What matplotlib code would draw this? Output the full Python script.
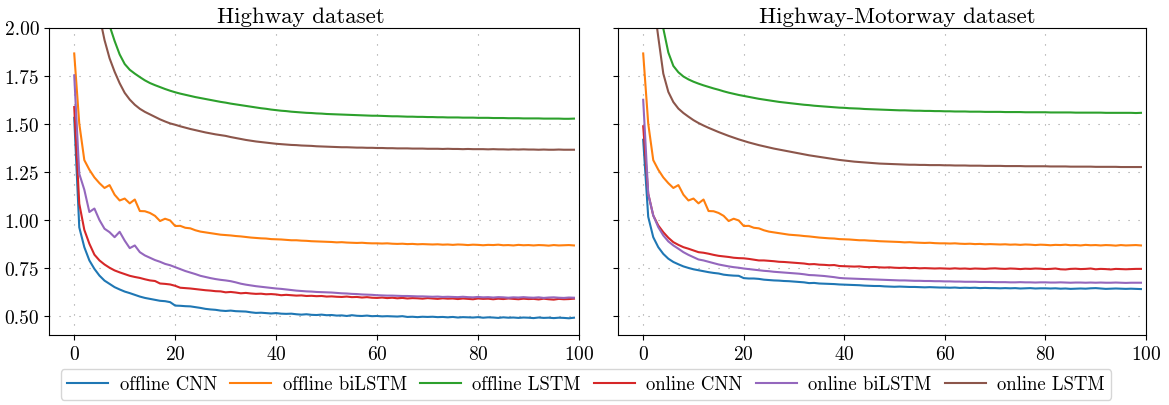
import numpy as np
import matplotlib
matplotlib.use("Agg")
import matplotlib.pyplot as plt

plt.rcParams["font.family"] = "serif"
plt.rcParams["font.serif"] = ["cmr10"]
plt.rcParams["mathtext.fontset"] = "cm"
plt.rcParams["axes.formatter.use_mathtext"] = True
plt.rcParams["axes.unicode_minus"] = False

epochs = np.arange(100)

# offline biLSTM loss is the same curve on both datasets
off_bilstm = [
    1.865, 1.500, 1.310, 1.260, 1.220, 1.190, 1.165, 1.180, 1.130, 1.100,
    1.110, 1.085, 1.105, 1.045, 1.044, 1.035, 1.020, 0.993, 1.005, 0.996,
    0.967, 0.968, 0.958, 0.955, 0.945, 0.938, 0.934, 0.930, 0.926, 0.922,
    0.920, 0.918, 0.915, 0.913, 0.910, 0.907, 0.905, 0.903, 0.902, 0.899,
    0.898, 0.897, 0.895, 0.893, 0.893, 0.891, 0.890, 0.888, 0.887, 0.886,
    0.885, 0.884, 0.882, 0.883, 0.881, 0.880, 0.879, 0.880, 0.878, 0.877,
    0.877, 0.876, 0.877, 0.875, 0.874, 0.875, 0.873, 0.874, 0.872, 0.873,
    0.872, 0.871, 0.872, 0.870, 0.871, 0.869, 0.871, 0.870, 0.868, 0.870,
    0.869, 0.867, 0.869, 0.868, 0.870, 0.867, 0.868, 0.866, 0.869, 0.867,
    0.868, 0.866, 0.868, 0.867, 0.865, 0.868, 0.866, 0.867, 0.868, 0.866,
]

# Highway dataset
hw_off_cnn = [
    1.530, 0.960, 0.857, 0.788, 0.744, 0.709, 0.683, 0.666, 0.649, 0.637,
    0.626, 0.618, 0.609, 0.600, 0.593, 0.588, 0.583, 0.578, 0.576, 0.571,
    0.553, 0.552, 0.550, 0.549, 0.545, 0.541, 0.536, 0.533, 0.531, 0.527,
    0.525, 0.527, 0.524, 0.523, 0.522, 0.518, 0.515, 0.516, 0.514, 0.512,
    0.514, 0.511, 0.510, 0.511, 0.508, 0.506, 0.508, 0.505, 0.504, 0.506,
    0.503, 0.504, 0.501, 0.502, 0.499, 0.503, 0.500, 0.499, 0.501, 0.498,
    0.499, 0.497, 0.498, 0.497, 0.496, 0.498, 0.494, 0.495, 0.493, 0.495,
    0.494, 0.495, 0.493, 0.494, 0.492, 0.494, 0.491, 0.493, 0.492, 0.491,
    0.493, 0.490, 0.492, 0.491, 0.489, 0.492, 0.490, 0.491, 0.489, 0.491,
    0.490, 0.488, 0.491, 0.489, 0.490, 0.488, 0.490, 0.489, 0.487, 0.490,
]
hw_off_lstm = [
    3.100, 2.850, 2.620, 2.440, 2.290, 2.170, 2.080, 2.010, 1.930, 1.860,
    1.810, 1.780, 1.760, 1.742, 1.725, 1.711, 1.700, 1.690, 1.680, 1.671,
    1.663, 1.656, 1.650, 1.644, 1.638, 1.633, 1.628, 1.623, 1.618, 1.613,
    1.609, 1.604, 1.600, 1.596, 1.592, 1.588, 1.584, 1.580, 1.577, 1.573,
    1.570, 1.567, 1.565, 1.562, 1.560, 1.558, 1.556, 1.555, 1.553, 1.552,
    1.550, 1.549, 1.548, 1.547, 1.546, 1.545, 1.544, 1.543, 1.542, 1.541,
    1.541, 1.540, 1.539, 1.538, 1.538, 1.537, 1.536, 1.536, 1.535, 1.535,
    1.534, 1.534, 1.533, 1.533, 1.532, 1.532, 1.532, 1.531, 1.531, 1.531,
    1.530, 1.530, 1.530, 1.529, 1.529, 1.529, 1.528, 1.528, 1.528, 1.527,
    1.527, 1.527, 1.527, 1.526, 1.526, 1.526, 1.526, 1.525, 1.525, 1.526,
]
hw_on_cnn = [
    1.586, 1.083, 0.947, 0.875, 0.818, 0.788, 0.767, 0.750, 0.736, 0.726,
    0.717, 0.708, 0.702, 0.697, 0.690, 0.684, 0.681, 0.668, 0.666, 0.663,
    0.656, 0.646, 0.644, 0.642, 0.639, 0.636, 0.633, 0.631, 0.628, 0.627,
    0.622, 0.624, 0.621, 0.617, 0.619, 0.616, 0.614, 0.615, 0.612, 0.613,
    0.611, 0.607, 0.609, 0.607, 0.605, 0.606, 0.603, 0.604, 0.602, 0.603,
    0.600, 0.601, 0.599, 0.598, 0.600, 0.597, 0.598, 0.595, 0.597, 0.594,
    0.593, 0.595, 0.592, 0.594, 0.591, 0.593, 0.590, 0.592, 0.591, 0.589,
    0.592, 0.590, 0.588, 0.591, 0.589, 0.590, 0.587, 0.590, 0.588, 0.586,
    0.590, 0.588, 0.589, 0.586, 0.589, 0.587, 0.590, 0.588, 0.586, 0.589,
    0.587, 0.588, 0.585, 0.589, 0.586, 0.584, 0.588, 0.586, 0.587, 0.589,
]
hw_on_bilstm = [
    1.751, 1.239, 1.156, 1.040, 1.058, 0.998, 0.953, 0.935, 0.909, 0.937,
    0.891, 0.852, 0.866, 0.831, 0.814, 0.802, 0.790, 0.781, 0.770, 0.763,
    0.753, 0.743, 0.733, 0.725, 0.717, 0.708, 0.702, 0.696, 0.691, 0.687,
    0.684, 0.680, 0.674, 0.667, 0.662, 0.658, 0.654, 0.651, 0.648, 0.645,
    0.642, 0.640, 0.637, 0.634, 0.631, 0.629, 0.627, 0.626, 0.624, 0.623,
    0.622, 0.621, 0.619, 0.617, 0.616, 0.614, 0.613, 0.611, 0.610, 0.609,
    0.607, 0.606, 0.605, 0.605, 0.604, 0.603, 0.603, 0.602, 0.601, 0.601,
    0.600, 0.599, 0.600, 0.598, 0.599, 0.598, 0.597, 0.599, 0.597, 0.596,
    0.598, 0.596, 0.597, 0.595, 0.597, 0.596, 0.594, 0.596, 0.595, 0.597,
    0.595, 0.594, 0.596, 0.593, 0.595, 0.596, 0.594, 0.593, 0.595, 0.594,
]
hw_on_lstm = [
    3.300, 2.950, 2.650, 2.400, 2.200, 2.060, 1.935, 1.840, 1.770, 1.710,
    1.660, 1.625, 1.598, 1.577, 1.561, 1.548, 1.535, 1.522, 1.511, 1.501,
    1.494, 1.486, 1.479, 1.472, 1.466, 1.460, 1.454, 1.449, 1.444, 1.440,
    1.436, 1.430, 1.425, 1.420, 1.415, 1.411, 1.407, 1.404, 1.401, 1.398,
    1.395, 1.393, 1.391, 1.389, 1.388, 1.386, 1.385, 1.384, 1.382, 1.381,
    1.380, 1.379, 1.378, 1.377, 1.377, 1.376, 1.375, 1.375, 1.374, 1.374,
    1.373, 1.373, 1.372, 1.372, 1.371, 1.371, 1.371, 1.370, 1.370, 1.370,
    1.369, 1.369, 1.369, 1.368, 1.369, 1.368, 1.368, 1.367, 1.368, 1.367,
    1.367, 1.367, 1.366, 1.367, 1.366, 1.366, 1.365, 1.366, 1.365, 1.366,
    1.365, 1.365, 1.364, 1.365, 1.364, 1.364, 1.365, 1.364, 1.364, 1.364,
]

# Highway-Motorway dataset
hm_off_cnn = [
    1.416, 1.015, 0.909, 0.857, 0.822, 0.797, 0.780, 0.768, 0.757, 0.749,
    0.742, 0.737, 0.732, 0.727, 0.723, 0.720, 0.714, 0.711, 0.709, 0.708,
    0.696, 0.694, 0.694, 0.692, 0.688, 0.686, 0.684, 0.683, 0.681, 0.680,
    0.678, 0.676, 0.674, 0.670, 0.671, 0.668, 0.667, 0.666, 0.665, 0.663,
    0.662, 0.661, 0.660, 0.659, 0.657, 0.656, 0.655, 0.655, 0.653, 0.652,
    0.651, 0.652, 0.651, 0.650, 0.650, 0.649, 0.648, 0.649, 0.648, 0.647,
    0.647, 0.646, 0.647, 0.645, 0.646, 0.645, 0.646, 0.644, 0.645, 0.644,
    0.644, 0.643, 0.644, 0.643, 0.644, 0.642, 0.643, 0.644, 0.642, 0.643,
    0.643, 0.642, 0.643, 0.641, 0.642, 0.640, 0.641, 0.642, 0.641, 0.643,
    0.644, 0.642, 0.640, 0.641, 0.642, 0.641, 0.640, 0.641, 0.640, 0.639,
]
hm_off_lstm = [
    3.000, 2.620, 2.330, 2.130, 1.995, 1.870, 1.800, 1.767, 1.745, 1.730,
    1.718, 1.708, 1.699, 1.691, 1.683, 1.676, 1.668, 1.661, 1.655, 1.649,
    1.644, 1.639, 1.634, 1.629, 1.625, 1.621, 1.617, 1.613, 1.610, 1.607,
    1.604, 1.601, 1.598, 1.596, 1.593, 1.591, 1.589, 1.587, 1.585, 1.583,
    1.582, 1.580, 1.579, 1.578, 1.576, 1.575, 1.574, 1.573, 1.572, 1.571,
    1.570, 1.569, 1.569, 1.568, 1.567, 1.567, 1.566, 1.566, 1.565, 1.565,
    1.564, 1.564, 1.563, 1.563, 1.563, 1.562, 1.562, 1.562, 1.561, 1.561,
    1.561, 1.561, 1.560, 1.560, 1.560, 1.560, 1.559, 1.559, 1.559, 1.559,
    1.559, 1.558, 1.558, 1.558, 1.558, 1.558, 1.557, 1.557, 1.557, 1.557,
    1.557, 1.557, 1.556, 1.556, 1.556, 1.556, 1.556, 1.556, 1.555, 1.556,
]
hm_on_cnn = [
    1.486, 1.135, 1.022, 0.970, 0.935, 0.906, 0.883, 0.869, 0.857, 0.849,
    0.840, 0.831, 0.828, 0.823, 0.817, 0.812, 0.809, 0.806, 0.802, 0.800,
    0.799, 0.796, 0.792, 0.788, 0.788, 0.786, 0.784, 0.781, 0.780, 0.778,
    0.776, 0.774, 0.772, 0.768, 0.769, 0.766, 0.765, 0.763, 0.764, 0.759,
    0.758, 0.757, 0.756, 0.757, 0.754, 0.753, 0.754, 0.752, 0.751, 0.752,
    0.750, 0.749, 0.750, 0.748, 0.749, 0.747, 0.748, 0.747, 0.746, 0.747,
    0.746, 0.745, 0.747, 0.745, 0.746, 0.744, 0.746, 0.745, 0.744, 0.746,
    0.747, 0.745, 0.744, 0.746, 0.745, 0.743, 0.745, 0.744, 0.746, 0.745,
    0.743, 0.744, 0.746, 0.742, 0.741, 0.744, 0.745, 0.743, 0.744, 0.746,
    0.742, 0.744, 0.743, 0.741, 0.744, 0.743, 0.742, 0.743, 0.744, 0.744,
]
hm_on_bilstm = [
    1.624, 1.135, 1.022, 0.961, 0.918, 0.887, 0.866, 0.849, 0.831, 0.817,
    0.805, 0.793, 0.788, 0.781, 0.774, 0.767, 0.762, 0.757, 0.753, 0.750,
    0.746, 0.743, 0.740, 0.737, 0.734, 0.732, 0.729, 0.727, 0.725, 0.723,
    0.721, 0.719, 0.716, 0.712, 0.711, 0.709, 0.707, 0.704, 0.701, 0.697,
    0.695, 0.694, 0.693, 0.692, 0.691, 0.690, 0.689, 0.688, 0.687, 0.686,
    0.685, 0.684, 0.684, 0.683, 0.682, 0.682, 0.681, 0.681, 0.680, 0.680,
    0.679, 0.679, 0.678, 0.678, 0.677, 0.677, 0.677, 0.676, 0.676, 0.676,
    0.675, 0.675, 0.675, 0.674, 0.674, 0.675, 0.674, 0.674, 0.673, 0.674,
    0.674, 0.673, 0.673, 0.674, 0.673, 0.672, 0.673, 0.673, 0.672, 0.673,
    0.672, 0.673, 0.672, 0.672, 0.673, 0.672, 0.671, 0.672, 0.672, 0.672,
]
hm_on_lstm = [
    2.900, 2.500, 2.150, 1.950, 1.760, 1.665, 1.612, 1.578, 1.555, 1.536,
    1.518, 1.503, 1.490, 1.478, 1.467, 1.456, 1.446, 1.436, 1.427, 1.418,
    1.410, 1.402, 1.395, 1.388, 1.382, 1.376, 1.370, 1.365, 1.360, 1.355,
    1.350, 1.345, 1.340, 1.335, 1.331, 1.327, 1.323, 1.319, 1.315, 1.311,
    1.308, 1.305, 1.302, 1.300, 1.298, 1.296, 1.294, 1.292, 1.291, 1.290,
    1.289, 1.288, 1.287, 1.286, 1.286, 1.285, 1.285, 1.284, 1.284, 1.284,
    1.283, 1.283, 1.282, 1.282, 1.282, 1.281, 1.281, 1.281, 1.280, 1.280,
    1.280, 1.280, 1.279, 1.279, 1.279, 1.279, 1.278, 1.278, 1.278, 1.278,
    1.278, 1.277, 1.277, 1.277, 1.277, 1.276, 1.276, 1.276, 1.276, 1.276,
    1.275, 1.275, 1.275, 1.275, 1.275, 1.274, 1.274, 1.274, 1.274, 1.274,
]

labels = ["offline CNN", "offline biLSTM", "offline LSTM",
          "online CNN", "online biLSTM", "online LSTM"]
colors = ["tab:blue", "tab:orange", "tab:green", "tab:red", "tab:purple", "tab:brown"]

panels = [
    ("Highway dataset", [hw_off_cnn, off_bilstm, hw_off_lstm,
                         hw_on_cnn, hw_on_bilstm, hw_on_lstm]),
    ("Highway-Motorway dataset", [hm_off_cnn, off_bilstm, hm_off_lstm,
                                  hm_on_cnn, hm_on_bilstm, hm_on_lstm]),
]

fig = plt.figure(figsize=(11.69, 4.06), dpi=100)
ax1 = fig.add_axes([0.0419, 0.1724, 0.4534, 0.7574])
ax2 = fig.add_axes([0.5287, 0.1724, 0.4516, 0.7574], sharey=ax1)
title_x = [0.476, 0.529]

for ax, (title, series), tx in zip([ax1, ax2], panels, title_x):
    for ys, lab, c in zip(series, labels, colors):
        ax.plot(epochs, ys, color=c, lw=1.5, label=lab)
    ax.set_xlim(-5, 100)
    ax.set_ylim(0.4, 2.0)
    ax.set_xticks(np.arange(0, 101, 20))
    ax.set_yticks(np.arange(0.5, 2.01, 0.25))
    ax.grid(True, color="0.6", linestyle=(0, (1, 8)), linewidth=0.8)
    ax.tick_params(labelsize=14)
    ax.set_title(title, fontsize=16.5, x=tx, pad=4)

ax1.yaxis.set_major_formatter(matplotlib.ticker.FormatStrFormatter("%.2f"))
plt.setp(ax2.get_yticklabels(), visible=False)

handles, _ = ax1.get_legend_handles_labels()
fig.legend(handles, labels, loc="center", bbox_to_anchor=(0.5013, 0.0505),
           ncol=6, fontsize=13.5, frameon=True, handlelength=2.2,
           handletextpad=0.6, columnspacing=0.7, borderpad=0.35)

fig.savefig("out.png", dpi=100)
